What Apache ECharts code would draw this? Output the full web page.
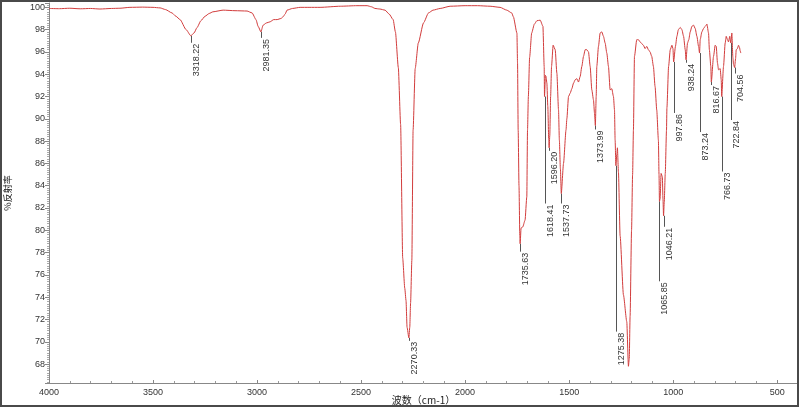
<!DOCTYPE html>
<html>
<head>
<meta charset="utf-8">
<script src="https://cdn.jsdelivr.net/npm/echarts@6/dist/echarts.min.js"></script>
<style>
html,body{margin:0;padding:0;background:#fff;}
#chart{width:800px;height:408px;}
</style>
</head>
<body>
<div id="chart"></div>
<script>
// Spectrum: wavenumber (cm-1) and % reflectance
const wavenumbers = [
4000,3950,3900,3850,3800,3755,3700,3659,3611,3550,3500,3466,3440,3409,3390,3370,3341,3318.22,3303,3288,3270,3250,3230,3212,3163,3106,3048,3024,3005,2995,2981.35,2971,2955,2938,2920,2904,2885,2875,2865,2856,2830,2793,2750,2697,2600,2520,2471,2450,2433,2410,2385,2365,2346,2335,2321,2310,2300,2290,2284,2279,2270.33,2266,2262,2256,2250,2240,2225,2200,2176,2154,2120,2072,2000,1940,1880,1832,1800,1776,1768,1751,1748,1745,1741,1737,1735.63,1731,1723,1712,1703.5,1700,1696,1690,1680,1667,1655,1639,1626,1620,1618.41,1614,1611,1607,1602.5,1598,1596.20,1593,1589,1584.5,1577,1567,1559,1551,1547,1542,1537.73,1527,1515,1511,1503,1495,1487,1479,1471,1463,1455,1447,1439,1431,1423,1415,1407,1399,1391,1383,1378,1373.99,1370,1367,1359,1351,1343,1335,1327,1319,1311,1303,1295,1287,1282,1279,1275.38,1271,1268,1263,1255,1239,1223,1215,1211,1207,1200,1195,1191,1186,1175,1167,1159,1143,1135,1127,1119,1111,1103,1095,1087,1079,1071,1068,1065.85,1063,1058,1052,1049,1046.21,1043,1038,1032,1030,1022,1014,1006,1001,997.86,989,982,975,966,958,950,942,938.24,931,925,918,910,902,894,886,878,873.24,870,862,854,846,841,838,830,826,819,816.67,806,798,793,787,782,774,769,766.73,758,750,745,739,734,728,722.84,718,713,710,704.56,700,697,691,686,681,678,675
];
const reflectance = [
99.9,99.88,99.92,99.87,99.9,99.85,99.9,99.92,100.0,100.02,100.0,99.95,99.8,99.5,99.2,98.9,98.0,97.45,97.7,98.2,98.8,99.2,99.45,99.6,99.75,99.7,99.67,99.5,98.9,98.3,97.8,98.4,98.6,98.7,98.9,98.9,99.0,99.15,99.4,99.75,99.9,100.0,100.0,100.0,100.1,100.15,100.15,100.05,99.9,99.85,99.75,99.4,98.9,97.8,94.6,89.5,77.5,74.8,73.7,71.3,70.35,71.3,73.5,77.3,89,94.5,96.8,98.6,99.5,99.75,99.9,100.1,100.15,100.15,100.1,100.0,99.75,99.5,99.15,97.7,95,89,84,79.5,78.8,80.2,80.3,80.9,83,89,92,95.5,97.7,98.5,98.8,98.85,98.3,94.7,92.0,93.9,93.8,93.2,91.1,88.1,87.4,88.5,92,94.7,96.6,96.2,94.1,90.8,88.1,85.5,83.3,86.0,89,90,92.0,92.3,92.7,93.2,93.5,93.6,93.3,93.8,94.7,95.6,96.2,96.2,96.0,94.7,92.6,91.7,90.5,89.4,92,94.7,96.5,97.7,97.8,97.4,96.8,95.9,94.7,92.6,92.7,92.0,90.8,88.1,85.8,86.8,87.4,85.2,79.5,74.2,71.8,67.8,68.5,72.3,80,85,89,95.6,97.1,97.1,96.9,96.6,96.3,96.5,96.2,96.0,95.6,94.7,92.9,90.8,88.1,85,82.6,82.8,85.1,84.8,82.8,81.3,82.5,85.1,89,91,94.7,96.2,96.6,96.3,95.1,96.5,97.4,98.0,98.2,98.0,97.4,96.2,95.3,96.8,97.1,97.8,98.3,98.4,98.1,97.4,96.5,95.9,97.1,97.8,98.1,98.3,98.4,98.5,97.7,96.2,94.7,93.3,95.6,96.6,96.5,95.0,94.4,94.5,93.5,92.0,94.7,96.8,97.4,97.1,96.9,97.4,96.8,97.7,95.5,94.9,94.6,95.4,96.2,96.3,96.6,96.4,96.1,95.9
];
// Peak annotations
const peakWavenumbers = [3318.22,2981.35,2270.33,1735.63,1618.41,1596.20,1537.73,1373.99,1275.38,1065.85,1046.21,997.86,938.24,873.24,816.67,766.73,722.84,704.56];
const peakReflectance = [97.45,97.8,70.35,78.8,92.0,87.4,83.3,89.4,85.8,82.6,81.3,95.1,95.3,95.9,93.3,92.0,96.8,94.6];
const peakLabels = ['3318.22','2981.35','2270.33','1735.63','1618.41','1596.20','1537.73','1373.99','1275.38','1065.85','1046.21','997.86','938.24','873.24','816.67','766.73','722.84','704.56'];
// Axis tick labels
const xTickLabels = [4000,3500,3000,2500,2000,1500,1000,500];
const yTickLabels = [68,70,72,74,76,78,80,82,84,86,88,90,92,94,96,98,100];

// layout: leader line lengths in px (below each peak)
const leaderPx = [7,6,3,8,107,3,10,4,166,80,11,51,3,79,3,75,77,6];

const spectrum = wavenumbers.map((w,i)=>[w, reflectance[i]]);
const peaks = peakWavenumbers.map((w,i)=>[w, peakReflectance[i]]);

const chart = echarts.init(document.getElementById('chart'), null, {renderer:'canvas'});
const axisFont = "'Liberation Sans', Arial, sans-serif";
chart.setOption({
  animation:false,
  backgroundColor:'#fff',
  grid:{left:49,right:2,top:3,bottom:25,outerBoundsMode:'none',containLabel:false},
  xAxis:{
    type:'value', inverse:true, min:400, max:4000, splitNumber:7,
    name:'波数（cm-1）', nameLocation:'middle', nameGap:12, nameMoveOverlap:false,
    nameTextStyle:{color:'#222', fontSize:10, fontFamily:"'Noto Sans CJK SC', sans-serif", verticalAlign:'top'},
    axisLine:{show:true, onZero:false, lineStyle:{color:'#888', width:1}},
    axisTick:{show:true, inside:true, length:3, lineStyle:{color:'#888'}},
    minorTick:{show:true, splitNumber:5, length:2, lineStyle:{color:'#999'}},
    splitLine:{show:false},
    axisLabel:{color:'#333', fontSize:9, fontFamily:axisFont, margin:5, showMinLabel:false,
      formatter:v=> xTickLabels.includes(v) ? String(v) : ''}
  },
  yAxis:{
    type:'value', min:66.3, max:100.39, splitNumber:17,
    name:'%反射率', nameLocation:'middle', nameGap:37, nameRotate:90, nameMoveOverlap:false,
    nameTextStyle:{color:'#222', fontSize:9, fontFamily:"'Noto Sans CJK SC', sans-serif"},
    axisLine:{show:true, lineStyle:{color:'#888', width:1}},
    axisTick:{show:true, inside:false, length:4, lineStyle:{color:'#888'}},
    minorTick:{show:true, splitNumber:10, length:2, lineStyle:{color:'#aaa'}},
    splitLine:{show:false},
    axisLabel:{color:'#333', fontSize:9, fontFamily:axisFont, margin:4, showMinLabel:false, showMaxLabel:false,
      formatter:v=> yTickLabels.includes(v) ? String(v) : ''}
  },
  graphic:[{
    type:'rect', silent:true, z:100,
    shape:{x:1, y:1, width:797, height:405},
    style:{fill:'none', stroke:'#4a4a4a', lineWidth:2}
  }],
  series:[
    {
      type:'line', data:spectrum, showSymbol:false, symbol:'none',
      smooth:0.2, smoothMonotone:'x',
      lineStyle:{color:'#d23c3c', width:1}, z:3
    },
    {
      type:'custom', data:peaks, z:2, clip:false,
      renderItem:(params, api)=>{
        const i = params.dataIndex;
        const p = api.coord([api.value(0), api.value(1)]);
        const x = Math.round(p[0]) + 0.5;
        const y0 = p[1];
        const y1 = y0 + leaderPx[i];
        return {
          type:'group',
          children:[
            {type:'line', shape:{x1:x, y1:y0, x2:x, y2:y1}, style:{stroke:'#555', lineWidth:1}},
            {type:'text', x:x+5, y:y1+1, rotation:Math.PI/2,
              style:{text:peakLabels[i], fill:'#333', font:"9px 'Liberation Sans', Arial, sans-serif",
                align:'right', verticalAlign:'middle'}}
          ]
        };
      }
    }
  ]
});
</script>
</body>
</html>
